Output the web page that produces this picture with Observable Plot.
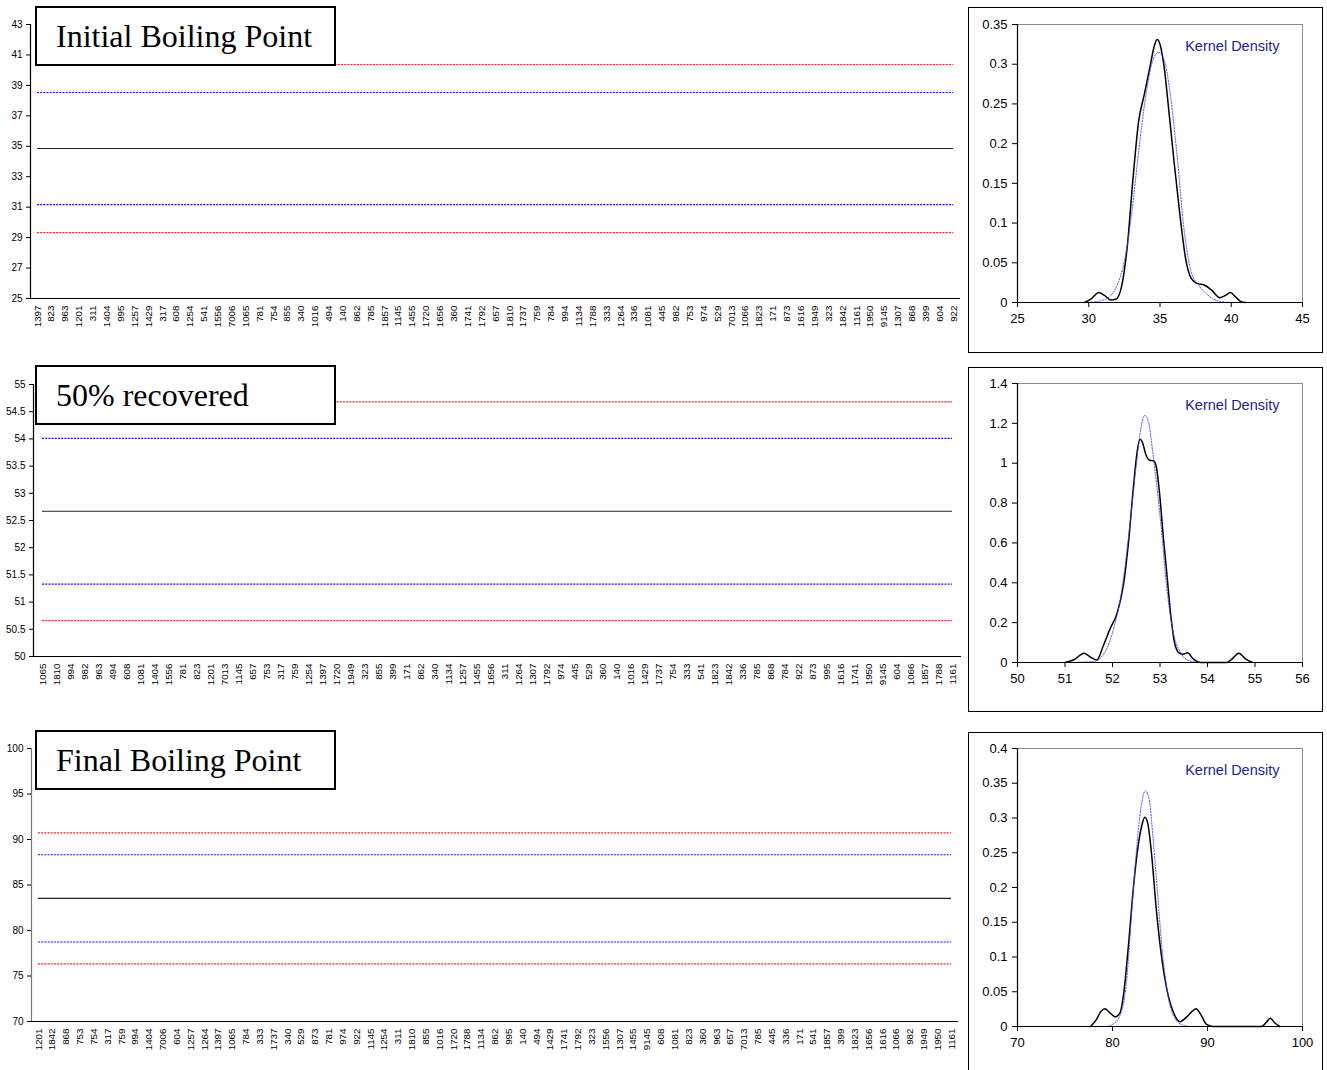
<!DOCTYPE html>
<html>
<head>
<meta charset="utf-8">
<script src="https://cdn.jsdelivr.net/npm/d3@7"></script>
<script src="https://cdn.jsdelivr.net/npm/@observablehq/plot@0.6"></script>
<style>
  body { margin: 0; background: #fff; }
  #page { position: relative; width: 1327px; height: 1070px; overflow: hidden; background: #fff;
          font-family: "Liberation Sans", Arial, sans-serif; }
  .abs { position: absolute; }
  .title { position: absolute; left: 35px; width: 301px; height: 60px; box-sizing: border-box;
           border: 2px solid #000; background: #fff; padding-left: 19px;
           font-family: "Liberation Serif", "Times New Roman", serif; font-size: 32px; line-height: 56px;
           white-space: nowrap; }
  .kbox { position: absolute; left: 968px; width: 355px; box-sizing: border-box; border: 1px solid #000; background: #fff; }
  .kbox svg { display: block; }
</style>
</head>
<body>
<div id="page"></div>
<script>
// ---- Laboratory codes, in plotting order, for each property ----
const ibpLabs = ["1397","823","963","1201","311","1404","995","1257","1429","317","608","1254","541","1556","7006","1065","781","754","855","340","1016","494","140","862","785","1857","1145","1455","1720","1656","360","1741","1792","657","1810","1737","759","784","994","1134","1788","333","1264","336","1081","445","982","753","974","529","7013","1066","1823","171","873","1616","1949","323","1842","1161","1950","9145","1307","868","399","604","922"];
const recLabs = ["1065","1810","994","982","963","494","608","1081","1404","1556","781","823","1201","7013","1145","657","753","317","759","1254","1397","1720","1949","323","855","399","171","862","340","1134","1257","1455","1656","311","1264","1307","1792","974","445","529","360","140","1016","1429","1737","754","333","541","1823","1842","336","785","868","784","922","873","995","1616","1741","1950","9145","604","1066","1857","1788","1161"];
const fbpLabs = ["1201","1842","868","753","754","317","759","994","1404","7006","604","1257","1264","1397","1065","784","333","1737","340","529","873","781","974","922","1145","1254","311","1810","855","1016","1720","1788","1134","862","995","140","494","1429","1741","1792","323","1556","1307","1455","9145","608","1081","823","360","963","657","7013","785","445","336","171","541","1857","399","1823","1656","1616","1066","982","1949","1950","1161"];

// ---- Consensus mean and standard deviation ----
const ibpStats = {mean: 34.85, sd: 1.84};
const recStats = {mean: 52.67, sd: 0.67};
const fbpStats = {mean: 83.53, sd: 2.40};

// ---- Y-axis tick values ----
const ibpTicks = [25, 27, 29, 31, 33, 35, 37, 39, 41, 43];
const recTicks = [50, 50.5, 51, 51.5, 52, 52.5, 53, 53.5, 54, 54.5, 55];
const fbpTicks = [70, 75, 80, 85, 90, 95, 100];

// ---- Kernel density estimates [value, density] ----
const ibpKernel = [[29.7,0],[30.2,0.005],[30.7,0.0125],[31.1,0.009],[31.55,0.003],[31.9,0.004],[32.3,0.02],[32.7,0.07],[33.1,0.155],[33.5,0.228],[33.9,0.262],[34.3,0.297],[34.6,0.323],[34.8,0.331],[35.0,0.325],[35.3,0.295],[35.6,0.245],[36.0,0.175],[36.4,0.11],[36.8,0.055],[37.2,0.03],[37.6,0.024],[38.1,0.022],[38.6,0.016],[39.2,0.006],[39.6,0.009],[39.95,0.0125],[40.3,0.007],[40.7,0.001],[41.0,0]];
const ibpNormal = [[29.6,0],[30.5,0.001],[31.0,0.003],[31.5,0.008],[32.0,0.022],[32.5,0.052],[33.0,0.11],[33.5,0.19],[34.0,0.26],[34.5,0.305],[34.9,0.315],[35.3,0.305],[35.7,0.265],[36.2,0.185],[36.7,0.09],[37.2,0.038],[37.7,0.022],[38.2,0.012],[38.7,0.005],[39.3,0.001],[40.0,0]];

const recKernel = [[51.0,0],[51.2,0.015],[51.4,0.047],[51.55,0.025],[51.67,0.012],[51.8,0.08],[51.95,0.17],[52.1,0.25],[52.23,0.39],[52.34,0.61],[52.44,0.88],[52.52,1.06],[52.58,1.12],[52.63,1.105],[52.7,1.045],[52.78,1.015],[52.86,1.012],[52.92,0.985],[52.99,0.85],[53.07,0.63],[53.15,0.43],[53.23,0.23],[53.32,0.085],[53.42,0.045],[53.5,0.042],[53.58,0.049],[53.7,0.018],[53.85,0],[54.4,0],[54.52,0.018],[54.66,0.047],[54.8,0.018],[54.95,0]];
const recNormal = [[51.1,0],[51.6,0.005],[51.81,0.04],[52.0,0.15],[52.2,0.37],[52.37,0.7],[52.51,1.01],[52.6,1.18],[52.68,1.24],[52.76,1.205],[52.84,1.07],[52.94,0.87],[53.04,0.64],[53.14,0.38],[53.28,0.15],[53.42,0.055],[53.56,0.015],[53.8,0]];

const fbpKernel = [[77.7,0],[78.3,0.01],[78.8,0.022],[79.2,0.0255],[79.7,0.02],[80.3,0.014],[80.8,0.02],[81.2,0.05],[81.7,0.12],[82.2,0.2],[82.7,0.26],[83.1,0.29],[83.4,0.301],[83.7,0.293],[84.1,0.25],[84.6,0.17],[85.2,0.097],[85.7,0.055],[86.4,0.021],[87.1,0.007],[87.8,0.0135],[88.4,0.022],[88.8,0.0255],[89.3,0.017],[89.9,0.003],[90.6,0],[95.7,0],[96.2,0.006],[96.6,0.012],[97.1,0.005],[97.6,0]];
const fbpNormal = [[78.0,0],[79.3,0],[80.1,0.004],[80.8,0.016],[81.5,0.068],[82.0,0.16],[82.5,0.25],[83.0,0.315],[83.45,0.339],[83.85,0.328],[84.25,0.274],[84.75,0.19],[85.25,0.107],[85.9,0.04],[86.6,0.011],[87.5,0.0015],[88.2,0],[90.0,0]];

const FONT = '"Liberation Sans", Arial, sans-serif';
const fmt = d => String(+d.toFixed(3));
const page = document.getElementById("page");

// Control-limit levels, in multiples of the standard deviation
const levels = [
  {k: 3, stroke: "#ff2020", dash: "2,1.2"},
  {k: 2, stroke: "#1010ff", dash: "2,1.2"},
  {k: 0, stroke: "#222", dash: null},
  {k: -2, stroke: "#1010ff", dash: "2,1.2"},
  {k: -3, stroke: "#ff2020", dash: "2,1.2"}
];

function controlChart({labs, stats, ticks, top, mt, mb, ml, mr, title, axisColor}) {
  const rows = levels.map(l => ({
    value: stats.mean + l.k * stats.sd, from: labs[0], to: labs[labs.length - 1], stroke: l.stroke, dash: l.dash
  }));
  const yDomain = [ticks[0], ticks[ticks.length - 1]];
  const marks = [];
  for (const r of rows) {
    marks.push(Plot.ruleY([r], {y: "value", x1: "from", x2: "to", stroke: r.stroke, strokeWidth: 1.1,
      strokeDasharray: r.dash || undefined}));
  }
  marks.push(
    Plot.frame({anchor: "left", stroke: axisColor, strokeWidth: 1.2}),
    Plot.ruleY([yDomain[0]], {stroke: "#000", strokeWidth: 1.2}),
    Plot.axisX({tickRotate: -90, tickSize: 0, tickPadding: 7, fontSize: 9.8, label: null}),
    Plot.axisY({ticks, tickSize: 4, tickPadding: 4, tickFormat: fmt, fontSize: 10, label: null})
  );
  const svg = Plot.plot({
    width: 965, height: 340,
    marginLeft: ml, marginRight: mr, marginTop: mt, marginBottom: mb,
    style: {fontFamily: FONT, color: "#000", background: "transparent", overflow: "visible"},
    x: {type: "point", domain: labs, padding: 0.5},
    y: {domain: yDomain},
    marks
  });
  const wrap = document.createElement("div");
  wrap.className = "abs";
  wrap.style.left = "0px";
  wrap.style.top = top + "px";
  wrap.appendChild(svg);
  page.appendChild(wrap);

  const t = document.createElement("div");
  t.className = "title";
  t.style.top = (top + title.offset) + "px";
  t.textContent = title.text;
  page.appendChild(t);
}

function densityChart({kernel, normal, xDomain, xTicks, yTicks, top, h, mt, mb}) {
  const yDomain = [yTicks[0], yTicks[yTicks.length - 1]];
  const svg = Plot.plot({
    width: 353, height: h,
    marginLeft: 48, marginRight: 20, marginTop: mt, marginBottom: mb,
    style: {fontFamily: FONT, color: "#000", background: "transparent"},
    x: {domain: xDomain},
    y: {domain: yDomain},
    marks: [
      Plot.frame({stroke: "#8c8c8c"}),
      Plot.line(kernel, {x: d => d[0], y: d => d[1], curve: "monotone-x", stroke: "#000", strokeWidth: 1.5}),
      Plot.line(normal, {x: d => d[0], y: d => d[1], curve: "monotone-x", stroke: "#4646ff", strokeWidth: 1, strokeDasharray: "1.2,1.6"}),
      Plot.ruleY([yDomain[0]], {stroke: "#000", strokeWidth: 1.2}),
      Plot.ruleX([xDomain[0]], {stroke: "#000", strokeWidth: 1.2}),
      Plot.axisX({ticks: xTicks, tickSize: 5, tickPadding: 6, tickFormat: fmt, fontSize: 13, label: null}),
      Plot.axisY({ticks: yTicks, tickSize: 5, tickPadding: 5, tickFormat: fmt, fontSize: 13, label: null}),
      Plot.text(["Kernel Density"], {text: d => d, frameAnchor: "top-right", dx: -23, dy: 16,
        textAnchor: "end", lineAnchor: "top", fill: "#22228f", fontSize: 14.5})
    ]
  });
  const box = document.createElement("div");
  box.className = "kbox";
  box.style.top = top + "px";
  box.style.height = (h + 2) + "px";
  box.appendChild(svg);
  page.appendChild(box);
}

controlChart({labs: ibpLabs, stats: ibpStats, ticks: ibpTicks, top: 0, mt: 24, mb: 42, ml: 30, mr: 5,
  title: {text: "Initial Boiling Point", offset: 6}, axisColor: "#000"});
controlChart({labs: recLabs, stats: recStats, ticks: recTicks, top: 360, mt: 24, mb: 44, ml: 33, mr: 4,
  title: {text: "50% recovered", offset: 5}, axisColor: "#000"});
controlChart({labs: fbpLabs, stats: fbpStats, ticks: fbpTicks, top: 725, mt: 23, mb: 44, ml: 31, mr: 7,
  title: {text: "Final Boiling Point", offset: 5}, axisColor: "#777"});

densityChart({kernel: ibpKernel, normal: ibpNormal, xDomain: [25, 45], xTicks: [25, 30, 35, 40, 45],
  yTicks: [0, 0.05, 0.1, 0.15, 0.2, 0.25, 0.3, 0.35], top: 7, h: 344, mt: 16, mb: 50});
densityChart({kernel: recKernel, normal: recNormal, xDomain: [50, 56], xTicks: [50, 51, 52, 53, 54, 55, 56],
  yTicks: [0, 0.2, 0.4, 0.6, 0.8, 1, 1.2, 1.4], top: 367, h: 343, mt: 15, mb: 49});
densityChart({kernel: fbpKernel, normal: fbpNormal, xDomain: [70, 100], xTicks: [70, 80, 90, 100],
  yTicks: [0, 0.05, 0.1, 0.15, 0.2, 0.25, 0.3, 0.35, 0.4], top: 732, h: 344, mt: 15, mb: 51});
</script>
</body>
</html>
